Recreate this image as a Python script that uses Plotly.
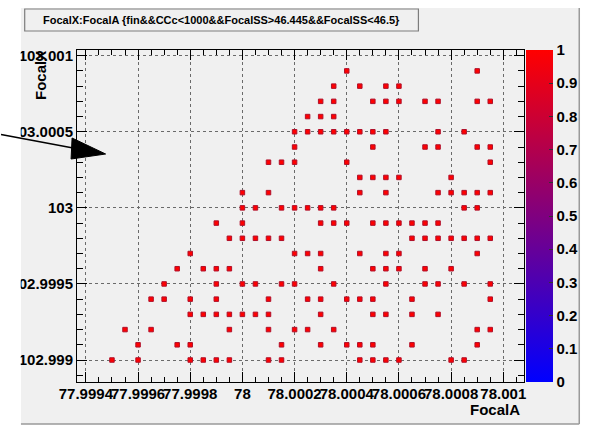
import plotly.graph_objects as go

# ---------------- data ----------------
x_tick_labels = ["77.9994", "77.9996", "77.9998", "78", "78.0002",
                 "78.0004", "78.0006", "78.0008", "78.001"]
y_tick_labels = ["102.999", "102.9995", "103", "103.0005", "103.001"]
z_tick_labels = ["0", "0.1", "0.2", "0.3", "0.4", "0.5",
                 "0.6", "0.7", "0.8", "0.9", "1"]

# FocalX value of each populated row
row_focal_x = [103.0009, 103.0008, 103.0007, 103.0006, 103.0005,
               103.0004, 103.0003, 103.0002, 103.0001, 103.0000,
               102.9999, 102.9998, 102.9997, 102.9996, 102.9995,
               102.9994, 102.9993, 102.9992, 102.9991, 102.9990]

# FocalA values of the filled bins in each row (same order as row_focal_x)
row_focal_a = [
    [78.0004, 78.0009],
    [78.00035, 78.00045, 78.00055, 78.0006],
    [78.0003, 78.00035, 78.0005, 78.00055, 78.0006, 78.0007, 78.00075, 78.0009, 78.00095],
    [78.00025, 78.0003, 78.00035],
    [78.0002, 78.00025, 78.0003, 78.00035, 78.0004, 78.00045, 78.0005, 78.00055, 78.00075, 78.00085],
    [78.0002, 78.0005, 78.0007, 78.00075, 78.0009, 78.00095],
    [78.0001, 78.00015, 78.0002, 78.0004, 78.00095],
    [78.00045, 78.0005, 78.00055, 78.0006, 78.0008],
    [78.0, 78.0001, 78.00045, 78.00055, 78.00075, 78.0008, 78.00085, 78.0009, 78.00095],
    [78.0, 78.00005, 78.00015, 78.0002, 78.00025, 78.0003, 78.00035, 78.00085, 78.0009],
    [77.9999, 78.0, 78.0003, 78.00035, 78.0004, 78.0005, 78.00055, 78.0006, 78.00065, 78.0007, 78.00075],
    [77.99995, 78.0, 78.00005, 78.0001, 78.00015, 78.00065, 78.0007, 78.00075, 78.0008, 78.00085, 78.0009, 78.00095],
    [77.9998, 78.0002, 78.00025, 78.0003, 78.00045, 78.00055, 78.0006, 78.0009],
    [77.99975, 77.99985, 77.9999, 77.99995, 78.0003, 78.0005, 78.00055, 78.0006, 78.0007, 78.0008],
    [77.9997, 77.9999, 78.0, 78.00005, 78.00015, 78.0002, 78.00035, 78.00055, 78.0007, 78.00075, 78.00085, 78.00095],
    [77.99965, 77.9997, 77.9998, 77.9999, 78.0001, 78.00025, 78.0003, 78.0004, 78.00045, 78.0005, 78.00065, 78.00095],
    [77.9998, 77.99985, 77.9999, 77.99995, 78.0, 78.00005, 78.0001, 78.0003, 78.0005, 78.00055, 78.00065, 78.00075],
    [77.99955, 77.99965, 77.99995, 78.0001, 78.0002, 78.00025, 78.00035, 78.0009, 78.00095],
    [77.9996, 77.99975, 77.9998, 78.00015, 78.0003, 78.0004, 78.00045, 78.0005, 78.00065, 78.0009],
    [77.9995, 77.9996, 77.9998, 77.99985, 77.9999, 77.99995, 78.0001, 78.00015, 78.00045, 78.0005, 78.00055, 78.0006, 78.0008, 78.00085],
]

title_text = "FocalX:FocalA {fin&&CCc<1000&&FocalSS>46.445&&FocalSS<46.5}"

# flatten into point lists; every filled bin holds one entry
focal_a, focal_x = [], []
for yv, row in zip(row_focal_x, row_focal_a):
    for xv in row:
        focal_a.append(xv)
        focal_x.append(yv)
bin_content = [1] * len(focal_a)

# ---------------- layout geometry (pixels) ----------------
W, H = 594, 430
L, R, T, B = 77, 530, 50, 382          # frame edges
PW, PH = R - L, B - T


def px(x):
    return (x - L) / PW


def py(y):
    return (B - y) / PH


FONT = "Liberation Sans"
PAD = "#f0f0f0"

fig = go.Figure()
fig.add_trace(go.Scatter(
    x=focal_a, y=focal_x, mode="markers",
    marker=dict(
        symbol="square", size=4.5,
        color=bin_content, cmin=0, cmax=1,
        colorscale=[[0, "#0000ff"], [1, "#ff0000"]],
        line=dict(color="#b0102a", width=1),
        showscale=True,
        colorbar=dict(
            x=px(532), xanchor="left", y=0.5, yanchor="middle",
            len=1.0, lenmode="fraction", thickness=27, thicknessmode="pixels",
            outlinewidth=0, xpad=0, ypad=0,
            tickmode="array", tickvals=[float(v) for v in z_tick_labels],
            ticktext=z_tick_labels,
            ticks="inside", ticklen=4, tickcolor="#333333",
            tickfont=dict(family=FONT, size=15, color="black", weight="bold"),
        ),
    ),
    hoverinfo="x+y", showlegend=False,
))

axis_common = dict(
    showline=True, linecolor="black", linewidth=1, mirror="allticks",
    ticks="inside", ticklen=10, tickwidth=1, tickcolor="black",
    showgrid=True, gridcolor="#6a6a6a", gridwidth=1, griddash="dot",
    zeroline=False, tickmode="array", automargin=False, tickangle=0,
    tickfont=dict(family=FONT, size=15, color="black", weight="bold"),
)

fig.update_xaxes(
    **axis_common,
    range=[77.999366, 78.0010794],
    tickvals=[float(v) for v in x_tick_labels], ticktext=x_tick_labels,
    ticklabelstandoff=-2,
    minor=dict(tick0=77.9994, dtick=0.00005, ticks="inside", ticklen=5,
               tickcolor="black", showgrid=False),
)
fig.update_yaxes(
    **axis_common,
    range=[102.9988555, 103.0010375],
    tickvals=[float(v) for v in y_tick_labels], ticktext=y_tick_labels,
    minor=dict(tick0=102.999, dtick=0.0001, ticks="inside", ticklen=6,
               tickcolor="black", showgrid=False),
)

shapes = [
    # canvas pad
    dict(type="rect", xref="paper", yref="paper", layer="below",
         x0=px(20), x1=px(586), y0=py(424), y1=py(8),
         fillcolor=PAD, line=dict(width=0)),
    dict(type="line", xref="paper", yref="paper", layer="below",
         x0=px(586), x1=px(586), y0=py(424), y1=py(8),
         line=dict(color="#9a9a9a", width=1.5)),
    dict(type="line", xref="paper", yref="paper", layer="below",
         x0=px(20), x1=px(586), y0=py(424), y1=py(424),
         line=dict(color="#9a9a9a", width=1.5)),
    # title box
    dict(type="rect", xref="paper", yref="paper", layer="below",
         x0=px(24), x1=px(423), y0=py(31), y1=py(9),
         fillcolor=PAD, line=dict(color="#7d7d7d", width=1.2)),
    # clip text that leaves the pad on the left
    dict(type="rect", xref="paper", yref="paper", layer="above",
         x0=px(-50), x1=px(20), y0=py(470), y1=py(-40),
         fillcolor="white", line=dict(width=0)),
    # arrow
    dict(type="line", xref="paper", yref="paper", layer="above",
         x0=px(0), y0=py(134.5), x1=px(92), y1=py(151.5),
         line=dict(color="black", width=1.5)),
    dict(type="path", xref="paper", yref="paper", layer="above",
         path=(f"M {px(72)} {py(138)} L {px(106)} {py(154)} "
               f"L {px(71)} {py(159)} Z"),
         fillcolor="black", line=dict(color="black", width=1)),
]

annotations = [
    dict(text=title_text, xref="paper", yref="paper",
         x=px(223.5), y=py(20), xanchor="center", yanchor="middle",
         showarrow=False,
         font=dict(family=FONT, size=11, color="black", weight="bold")),
    dict(text="FocalA", xref="paper", yref="paper",
         x=px(528), y=py(409.5), xanchor="right", yanchor="middle",
         showarrow=False,
         font=dict(family=FONT, size=15, color="black", weight="bold")),
    dict(text="FocalX", xref="paper", yref="paper",
         x=px(40), y=py(49), xanchor="center", yanchor="top",
         textangle=-90, showarrow=False,
         font=dict(family=FONT, size=15, color="black", weight="bold")),
]

fig.update_layout(
    width=W, height=H,
    margin=dict(l=L, r=W - R, t=T, b=H - B, pad=0),
    paper_bgcolor="white", plot_bgcolor=PAD,
    shapes=shapes, annotations=annotations,
    showlegend=False,
)

fig.write_html("out.html")
